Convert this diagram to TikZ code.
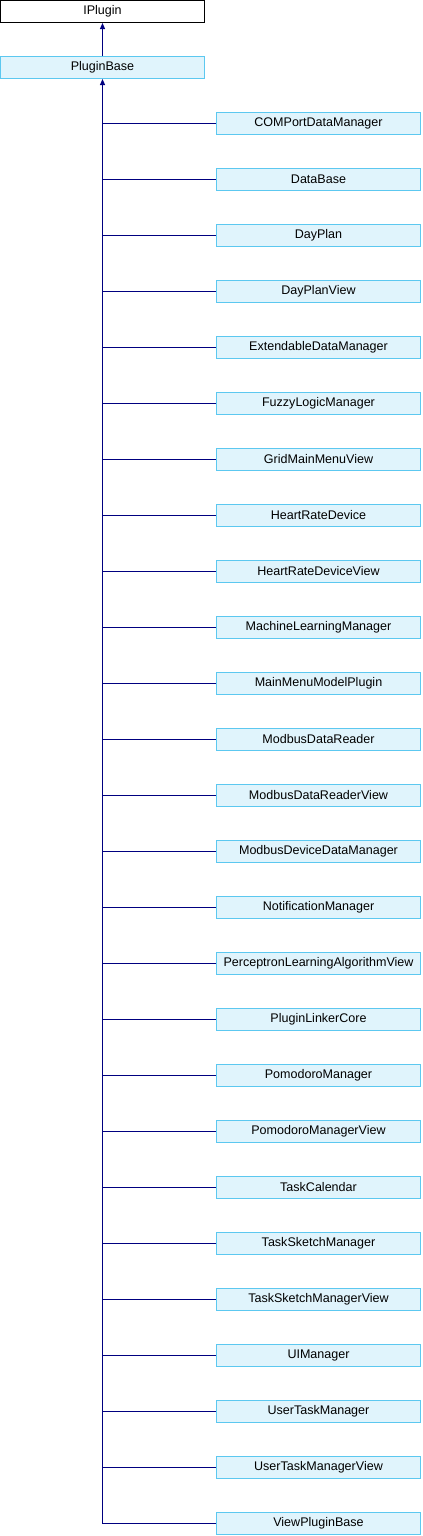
\documentclass[tikz,border=0pt]{standalone}
\usepackage{fontspec}
\setmainfont{Liberation Sans}
\usetikzlibrary{positioning,arrows.meta}
\definecolor{boxfill}{HTML}{E0F4FC}
\definecolor{boxline}{HTML}{5CC8F0}
\definecolor{linkline}{HTML}{000080}

\begin{document}
\begin{tikzpicture}[x=0.75pt,y=-0.75pt,
    cls/.style={draw=boxline,fill=boxfill,line width=0.75pt,minimum width=153pt,
        minimum height=16.5pt,inner sep=0pt,font=\fontsize{9.4}{11}\selectfont},
    base/.style={cls,draw=black,fill=white},
    link/.style={draw=linkline,line width=0.75pt},
    inherit/.style={link,-{Triangle[length=4.5pt,width=3.75pt]}}]
    \useasboundingbox (0,0) rectangle (422,1536);

    \node[base] (ip) at (102.5,11.5) {IPlugin};
    \node[cls] (pb) at (102.5,67.5) {PluginBase};
    \draw[inherit] (pb) -- (ip);

    \foreach \cname [count=\i] in {COMPortDataManager,DataBase,DayPlan,DayPlanView,
        ExtendableDataManager,FuzzyLogicManager,GridMainMenuView,HeartRateDevice,
        HeartRateDeviceView,MachineLearningManager,MainMenuModelPlugin,ModbusDataReader,
        ModbusDataReaderView,ModbusDeviceDataManager,NotificationManager,
        PerceptronLearningAlgorithmView,PluginLinkerCore,PomodoroManager,
        PomodoroManagerView,TaskCalendar,TaskSketchManager,TaskSketchManagerView,
        UIManager,UserTaskManager,UserTaskManagerView,ViewPluginBase} {
        \node[cls] (c\i) at (318.5,{123.5+56*(\i-1)}) {\cname};
        \draw[link] (pb.south |- c\i.west) -- (c\i.west);
    }
    \draw[inherit] (pb.south |- c26.west) -- (pb.south);
\end{tikzpicture}
\end{document}
